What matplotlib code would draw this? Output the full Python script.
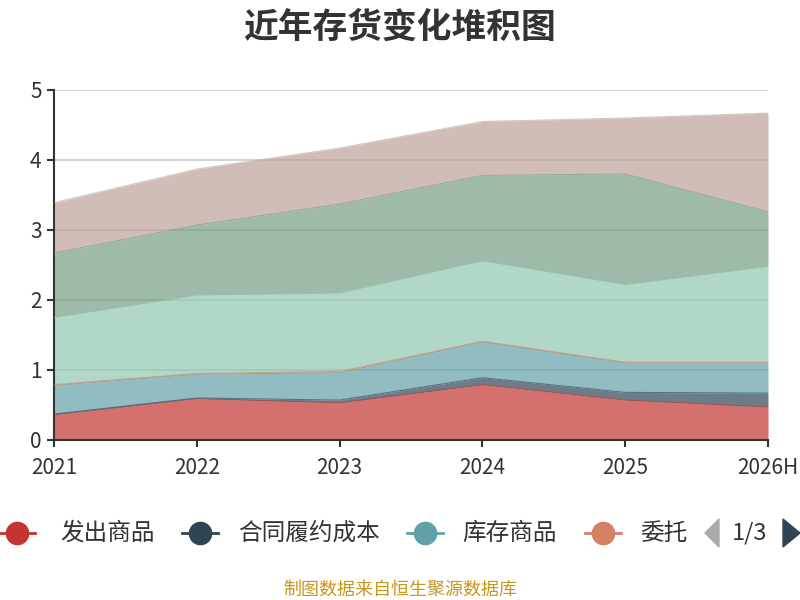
import matplotlib
matplotlib.use("Agg")
import matplotlib.pyplot as plt
from matplotlib.lines import Line2D
from matplotlib.patches import Polygon
import numpy as np

plt.rcParams['font.family'] = ['Noto Sans CJK SC', 'DejaVu Sans']

# data (stack order bottom -> top)
years = ['2021', '2022', '2023', '2024', '2025', '2026H']
series_names = ['发出商品', '合同履约成本', '库存商品', '委托加工物资', '原材料', '在产品', '周转材料']
fachu = [0.36, 0.59, 0.53, 0.79, 0.57, 0.47]
hetong = [0.01, 0.01, 0.04, 0.10, 0.11, 0.20]
kucun = [0.41, 0.34, 0.39, 0.51, 0.42, 0.43]
weituo = [0.01, 0.01, 0.02, 0.01, 0.01, 0.01]
yuancailiao = [0.96, 1.12, 1.12, 1.15, 1.11, 1.37]
zaichanpin = [0.92, 1.00, 1.27, 1.22, 1.58, 0.78]
zhouzhuan = [0.72, 0.80, 0.80, 0.77, 0.80, 1.41]
colors = ['#c23531', '#2f4554', '#61a0a8', '#d48265', '#91c7ae', '#749f83', '#bda29a']

values = [fachu, hetong, kucun, weituo, yuancailiao, zaichanpin, zhouzhuan]

fig = plt.figure(figsize=(8, 6), dpi=100)
ax = fig.add_axes([54 / 800, 160 / 600, 714 / 800, 350 / 600])

x = np.arange(len(years))
base = np.zeros(len(years))
for name, vals, c in zip(series_names, values, colors):
    top = base + np.array(vals)
    ax.fill_between(x, base, top, color=c, alpha=0.7, linewidth=0, zorder=2)
    ax.plot(x, top, color=c, alpha=0.6, linewidth=0.8, zorder=3)
    base = top

ax.set_xlim(0, len(years) - 1)
ax.set_ylim(0, 5)
ax.set_xticks(x)
ax.set_xticklabels(years)
ax.set_yticks(range(6))
ax.tick_params(axis='both', labelsize=15, colors='#333333', length=5, width=1.5,
               direction='out')
ax.tick_params(axis='x', pad=7)
ax.tick_params(axis='y', pad=4)
ax.yaxis.grid(True, color='#cccccc', linewidth=1.2, zorder=1)
ax.set_axisbelow(True)
for s in ['top', 'right']:
    ax.spines[s].set_visible(False)
for s in ['left', 'bottom']:
    ax.spines[s].set_color('#333333')
    ax.spines[s].set_linewidth(1.5)

# y-axis unit label, mostly clipped off the left edge as in the reference
fig.text(-0.006, 0.80, '亿元', color='red', rotation=90, fontsize=12,
         ha='center', va='center')

fig.text(0.5, 0.955, '近年存货变化堆积图', ha='center', va='center',
         fontsize=25, fontweight='bold', color='#333333')

# legend (page 1 of 3, drawn by hand like the paged legend in the reference)
leg_y = (600 - 533) / 600
legend_items = [(17, 60), (200, 238), (425, 462), (603, 640)]
legend_labels = ['发出商品', '合同履约成本', '库存商品', '委托']
for (mx, tx), lab, c in zip(legend_items, legend_labels, colors[:4]):
    fig.add_artist(Line2D([(mx - 18) / 800, (mx + 18) / 800], [leg_y, leg_y],
                          color=c, linewidth=2, transform=fig.transFigure))
    fig.add_artist(Line2D([mx / 800], [leg_y], marker='o', markersize=16,
                          color=c, transform=fig.transFigure))
    fig.text(tx / 800, leg_y, lab, fontsize=17, color='#333333',
             ha='left', va='center')

fig.add_artist(Polygon([[705 / 800, leg_y], [719 / 800, leg_y + 14 / 600],
                        [719 / 800, leg_y - 14 / 600]], closed=True,
                       color='#aaaaaa', transform=fig.transFigure))
fig.text(750 / 800, leg_y, '1/3', fontsize=17, color='#333333',
         ha='center', va='center')
fig.add_artist(Polygon([[800 / 800, leg_y], [783 / 800, leg_y + 14 / 600],
                        [783 / 800, leg_y - 14 / 600]], closed=True,
                       color='#2f4554', transform=fig.transFigure))

fig.text(0.5, (600 - 590) / 600, '制图数据来自恒生聚源数据库', ha='center',
         va='center', fontsize=13, color='#c9961f')

fig.savefig('out.png', dpi=100)
